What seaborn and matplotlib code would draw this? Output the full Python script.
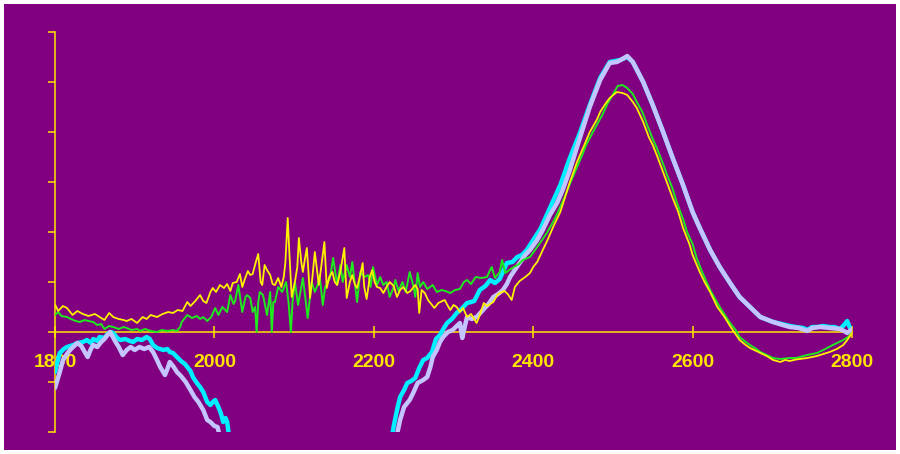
import matplotlib
matplotlib.use("Agg")
import matplotlib.pyplot as plt
import seaborn as sns
from matplotlib.patches import Rectangle

# ---------------- data ----------------
yellow_x = [1800, 1804, 1810, 1815, 1822, 1828, 1835, 1842, 1850, 1856, 1862, 1868, 1873, 1880, 1886, 1890,
            1896, 1903, 1910, 1915, 1920, 1928, 1935, 1942, 1948, 1954, 1960, 1966, 1970, 1976, 1982, 1986,
            1990, 1995, 1998, 2002, 2007, 2012, 2016, 2020, 2023, 2028, 2032, 2035, 2038, 2042, 2045, 2048,
            2052, 2055, 2058, 2060, 2063, 2066, 2070, 2073, 2076, 2080, 2084, 2087, 2089, 2092, 2094, 2097,
            2101, 2104, 2106, 2109, 2111, 2114, 2116, 2118, 2120, 2123, 2126, 2129, 2131, 2134, 2138, 2141,
            2144, 2148, 2151, 2154, 2158, 2163, 2166, 2170, 2173, 2176, 2179, 2183, 2186, 2188, 2191, 2195,
            2198, 2201, 2204, 2208, 2212, 2216, 2220, 2225, 2229, 2233, 2237, 2242, 2246, 2252, 2255, 2257,
            2260, 2264, 2268, 2272, 2276, 2281, 2286, 2289, 2293, 2296, 2300, 2304, 2308, 2312, 2317, 2322,
            2326, 2329, 2333, 2338, 2342, 2346, 2350, 2355, 2358, 2364, 2368, 2373, 2377, 2383, 2390, 2396,
            2400, 2405, 2412, 2418, 2425, 2434, 2442, 2446, 2455, 2462, 2471, 2480, 2484, 2490, 2496, 2505,
            2512, 2518, 2525, 2530, 2538, 2545, 2550, 2556, 2563, 2570, 2575, 2582, 2588, 2596, 2600, 2609,
            2615, 2622, 2631, 2640, 2647, 2652, 2659, 2665, 2672, 2680, 2685, 2693, 2701, 2710, 2716, 2722,
            2730, 2744, 2756, 2764, 2772, 2781, 2789, 2794, 2800]
yellow_y = [0.55, 0.42, 0.52, 0.48, 0.34, 0.42, 0.36, 0.32, 0.36, 0.30, 0.24, 0.38, 0.30, 0.26, 0.24, 0.22,
            0.26, 0.18, 0.30, 0.26, 0.34, 0.30, 0.36, 0.40, 0.38, 0.44, 0.42, 0.60, 0.52, 0.62, 0.74, 0.62,
            0.58, 0.80, 0.88, 0.80, 0.94, 0.88, 0.96, 0.82, 0.98, 1.00, 1.16, 0.90, 1.05, 1.22, 1.14, 1.16,
            1.40, 1.56, 1.00, 0.94, 1.34, 1.24, 1.14, 0.96, 0.94, 1.08, 0.90, 1.10, 1.38, 2.28, 1.60, 0.70,
            1.00, 1.30, 1.88, 1.40, 1.20, 1.50, 1.68, 1.20, 0.68, 1.10, 1.60, 1.20, 0.94, 1.30, 1.80, 0.88,
            1.10, 1.20, 1.00, 0.94, 1.20, 1.68, 0.68, 1.00, 1.14, 0.96, 0.88, 1.14, 1.38, 0.90, 0.66, 1.10,
            1.24, 1.00, 0.90, 0.88, 0.78, 0.90, 1.00, 0.92, 0.70, 0.84, 0.90, 0.78, 0.82, 0.94, 0.86, 0.38,
            0.84, 0.78, 0.64, 0.56, 0.48, 0.58, 0.62, 0.64, 0.52, 0.44, 0.54, 0.50, 0.40, 0.48, 0.30, 0.36,
            0.26, 0.18, 0.34, 0.58, 0.52, 0.56, 0.60, 0.74, 0.78, 0.82, 0.76, 0.64, 0.90, 1.02, 1.10, 1.18,
            1.30, 1.40, 1.64, 1.84, 2.10, 2.40, 2.80, 3.00, 3.40, 3.66, 4.00, 4.25, 4.40, 4.55, 4.68, 4.80,
            4.78, 4.74, 4.60, 4.48, 4.20, 3.90, 3.74, 3.50, 3.20, 2.90, 2.68, 2.40, 2.08, 1.76, 1.54, 1.20,
            1.00, 0.80, 0.50, 0.30, 0.12, 0.00, -0.16, -0.24, -0.32, -0.38, -0.42, -0.48, -0.56, -0.60, -0.56, -0.58,
            -0.55, -0.52, -0.48, -0.44, -0.40, -0.34, -0.26, -0.16, -0.02]

green_x = [1800, 1804, 1808, 1815, 1820, 1826, 1831, 1837, 1842, 1848, 1853, 1858, 1862, 1868, 1873, 1880,
           1886, 1890, 1896, 1903, 1907, 1913, 1920, 1928, 1934, 1941, 1948, 1953, 1957, 1959, 1966, 1972,
           1978, 1982, 1986, 1991, 1996, 2001, 2005, 2010, 2016, 2020, 2024, 2026, 2030, 2035, 2039, 2041,
           2045, 2048, 2051, 2053, 2055, 2057, 2061, 2066, 2070, 2072, 2074, 2076, 2080, 2085, 2090, 2093,
           2096, 2098, 2101, 2105, 2111, 2114, 2117, 2122, 2126, 2130, 2132, 2136, 2139, 2145, 2149, 2154,
           2158, 2161, 2166, 2170, 2173, 2176, 2179, 2183, 2188, 2193, 2196, 2199, 2204, 2208, 2212, 2216,
           2220, 2225, 2227, 2231, 2236, 2240, 2245, 2250, 2252, 2255, 2258, 2262, 2267, 2274, 2279, 2285,
           2290, 2296, 2302, 2308, 2313, 2317, 2322, 2328, 2335, 2342, 2346, 2348, 2352, 2358, 2361, 2365,
           2370, 2376, 2382, 2387, 2396, 2405, 2412, 2417, 2425, 2430, 2440, 2446, 2455, 2462, 2467, 2475,
           2480, 2487, 2493, 2500, 2506, 2512, 2518, 2525, 2530, 2537, 2543, 2550, 2555, 2563, 2568, 2575,
           2580, 2588, 2593, 2600, 2605, 2612, 2622, 2634, 2647, 2654, 2659, 2665, 2672, 2680, 2685, 2693,
           2701, 2710, 2722, 2730, 2744, 2756, 2764, 2776, 2789, 2795, 2800]
green_y = [0.34, 0.40, 0.32, 0.30, 0.26, 0.22, 0.20, 0.24, 0.22, 0.20, 0.14, 0.16, 0.06, 0.12, 0.10, 0.06,
           0.10, 0.08, 0.04, 0.06, 0.02, 0.06, 0.02, 0.00, 0.04, 0.02, 0.04, 0.02, 0.10, 0.20, 0.34, 0.28,
           0.32, 0.26, 0.30, 0.22, 0.30, 0.48, 0.34, 0.50, 0.40, 0.74, 0.56, 0.62, 0.94, 0.40, 0.70, 0.74,
           0.68, 0.40, 0.50, 0.00, 0.60, 0.80, 0.74, 0.34, 0.80, 0.00, 0.60, 0.60, 0.90, 0.80, 1.00, 0.60,
           0.00, 0.60, 1.00, 0.54, 1.08, 0.70, 0.28, 1.00, 0.80, 0.96, 1.14, 0.54, 0.90, 1.08, 1.48, 0.94,
           1.34, 1.00, 1.34, 1.10, 1.40, 1.00, 0.60, 1.20, 1.10, 1.14, 0.90, 1.30, 0.94, 1.10, 0.94, 1.00,
           0.70, 0.90, 1.04, 0.82, 1.00, 0.80, 1.20, 0.90, 0.70, 1.18, 0.90, 1.00, 0.86, 0.94, 0.80, 0.84,
           0.82, 0.78, 0.84, 0.86, 1.00, 1.04, 0.96, 1.10, 1.08, 1.10, 1.24, 1.30, 1.08, 1.20, 1.44, 1.18,
           1.24, 1.30, 1.36, 1.44, 1.50, 1.70, 1.86, 1.98, 2.20, 2.36, 2.72, 2.96, 3.30, 3.56, 3.76, 4.00,
           4.15, 4.35, 4.56, 4.75, 4.92, 4.94, 4.88, 4.76, 4.60, 4.40, 4.14, 3.86, 3.68, 3.36, 3.14, 2.86,
           2.60, 2.26, 2.00, 1.76, 1.48, 1.20, 0.84, 0.50, 0.18, 0.04, -0.10, -0.18, -0.26, -0.34, -0.40, -0.46,
           -0.52, -0.54, -0.52, -0.52, -0.46, -0.42, -0.36, -0.26, -0.16, -0.10, -0.02]

cyan_x = [1800, 1803, 1806, 1811, 1815, 1823, 1828, 1835, 1840, 1845, 1848, 1853, 1856, 1862, 1866, 1870,
          1873, 1878, 1882, 1888, 1894, 1898, 1903, 1909, 1915, 1919, 1923, 1928, 1936, 1941, 1944, 1948,
          1953, 1958, 1963, 1966, 1970, 1973, 1978, 1982, 1986, 1991, 1995, 1998, 2001, 2005, 2008, 2011,
          2014, 2016, 2018, 2030, 2120, 2215, 2223, 2226, 2230, 2233, 2238, 2242, 2247, 2252, 2257, 2262,
          2267, 2273, 2278, 2283, 2288, 2292, 2298, 2304, 2310, 2317, 2322, 2326, 2333, 2340, 2346, 2352,
          2358, 2363, 2367, 2374, 2380, 2386, 2392, 2400, 2409, 2421, 2434, 2446, 2459, 2471, 2484, 2496,
          2509, 2518, 2525, 2538, 2550, 2563, 2575, 2588, 2600, 2609, 2622, 2634, 2647, 2659, 2672, 2685,
          2701, 2712, 2722, 2730, 2739, 2744, 2750, 2756, 2764, 2772, 2778, 2785, 2790, 2794, 2797, 2800]
cyan_y = [-0.80, -0.60, -0.42, -0.34, -0.30, -0.26, -0.22, -0.20, -0.16, -0.22, -0.14, -0.18, -0.10, -0.12, -0.04, 0.00,
          -0.02, -0.12, -0.16, -0.14, -0.18, -0.20, -0.14, -0.16, -0.10, -0.14, -0.26, -0.32, -0.36, -0.34, -0.40, -0.42,
          -0.50, -0.58, -0.64, -0.70, -0.78, -0.90, -1.02, -1.10, -1.20, -1.40, -1.46, -1.40, -1.36, -1.50, -1.62, -1.80,
          -1.72, -1.80, -2.04, -2.60, -4.00, -2.60, -2.06, -1.80, -1.50, -1.30, -1.16, -1.02, -0.98, -0.92, -0.72, -0.56,
          -0.52, -0.40, -0.14, -0.06, 0.08, 0.18, 0.26, 0.38, 0.46, 0.58, 0.60, 0.62, 0.84, 0.92, 1.04, 0.98,
          1.06, 1.24, 1.38, 1.40, 1.50, 1.54, 1.64, 1.84, 2.06, 2.48, 2.94, 3.48, 4.00, 4.54, 5.08, 5.40,
          5.44, 5.50, 5.40, 5.00, 4.54, 4.00, 3.48, 2.94, 2.40, 2.08, 1.64, 1.30, 0.98, 0.70, 0.50, 0.30,
          0.20, 0.16, 0.12, 0.10, 0.08, 0.04, 0.10, 0.10, 0.12, 0.10, 0.10, 0.06, 0.14, 0.22, 0.10, 0.04]

lav_x = [1800, 1803, 1806, 1810, 1815, 1820, 1828, 1833, 1838, 1841, 1845, 1848, 1853, 1858, 1862, 1866,
         1869, 1872, 1876, 1880, 1885, 1890, 1895, 1900, 1906, 1912, 1918, 1923, 1928, 1932, 1938, 1941,
         1944, 1949, 1953, 1958, 1964, 1970, 1975, 1980, 1986, 1991, 1995, 2000, 2004, 2006, 2018, 2120,
         2222, 2229, 2233, 2238, 2245, 2250, 2255, 2262, 2267, 2271, 2274, 2279, 2283, 2287, 2293, 2299,
         2304, 2308, 2311, 2314, 2317, 2323, 2329, 2337, 2344, 2350, 2356, 2362, 2367, 2371, 2376, 2383,
         2390, 2396, 2405, 2412, 2421, 2430, 2437, 2446, 2459, 2471, 2484, 2496, 2505, 2512, 2518, 2525,
         2538, 2550, 2563, 2575, 2588, 2600, 2609, 2622, 2634, 2647, 2659, 2672, 2685, 2701, 2713, 2722,
         2733, 2744, 2750, 2760, 2772, 2785, 2790, 2794, 2800]
lav_y = [-1.12, -0.96, -0.80, -0.56, -0.44, -0.34, -0.22, -0.28, -0.42, -0.50, -0.34, -0.26, -0.30, -0.20, -0.14, -0.06,
         0.00, -0.08, -0.20, -0.30, -0.46, -0.36, -0.30, -0.36, -0.30, -0.34, -0.30, -0.40, -0.56, -0.70, -0.86, -0.74,
         -0.60, -0.70, -0.80, -0.88, -1.00, -1.16, -1.30, -1.40, -1.56, -1.76, -1.80, -1.88, -1.90, -2.04, -2.40, -4.00,
         -2.40, -2.06, -1.76, -1.50, -1.36, -1.20, -1.02, -0.96, -0.90, -0.70, -0.50, -0.36, -0.20, -0.10, 0.00, 0.04,
         0.12, 0.18, -0.12, 0.10, 0.30, 0.26, 0.30, 0.44, 0.56, 0.70, 0.76, 0.84, 0.96, 1.10, 1.22, 1.38,
         1.54, 1.64, 1.84, 2.04, 2.34, 2.58, 2.84, 3.24, 3.90, 4.50, 5.04, 5.38, 5.40, 5.46, 5.52, 5.40,
         5.00, 4.54, 4.00, 3.48, 2.94, 2.40, 2.08, 1.64, 1.30, 0.98, 0.70, 0.50, 0.30, 0.20, 0.14, 0.10,
         0.08, 0.02, 0.08, 0.10, 0.08, 0.06, 0.02, -0.02, 0.06]

x_ticks = [1800, 2000, 2200, 2400, 2600, 2800]
y_ticks = [-2, -1, 0, 1, 2, 3, 4, 5, 6]

# ---------------- style ----------------
PURPLE = "#800080"
AXIS_YELLOW = "#FFE600"
C_YELLOW = "#FFF200"
C_GREEN = "#1EEB1E"
C_CYAN = "#00F0FF"
C_LAV = "#C4C4FF"

sns.set_theme(style="white")
plt.rcParams["font.family"] = ["Liberation Sans", "DejaVu Sans"]
plt.rcParams["font.weight"] = "bold"

fig = plt.figure(figsize=(9, 4.54), dpi=100, facecolor="white")
fig.patches.append(Rectangle((4 / 900, 4 / 454), 892 / 900, 446 / 454,
                             transform=fig.transFigure, facecolor=PURPLE,
                             edgecolor="none", zorder=-10))
ax = fig.add_axes([55 / 900, 22 / 454, 797 / 900, 400 / 454])
ax.set_facecolor("none")

for xs, ys, col, lw in [(cyan_x, cyan_y, C_CYAN, 3.2),
                        (lav_x, lav_y, C_LAV, 3.2),
                        (green_x, green_y, C_GREEN, 1.4),
                        (yellow_x, yellow_y, C_YELLOW, 1.3)]:
    sns.lineplot(x=xs, y=ys, ax=ax, color=col, linewidth=lw,
                 estimator=None, sort=False, zorder=3)

ax.set_xlim(1800, 2800)
ax.set_ylim(-2, 6)
ax.set_xticks(x_ticks)
ax.set_xticklabels([str(t) for t in x_ticks])
ax.set_yticks(y_ticks)
ax.set_yticklabels([])

for s in ("top", "right"):
    ax.spines[s].set_visible(False)
ax.spines["bottom"].set_position(("data", 0))
ax.spines["bottom"].set_color(AXIS_YELLOW)
ax.spines["left"].set_color(AXIS_YELLOW)
ax.spines["bottom"].set_linewidth(1.1)
ax.spines["left"].set_linewidth(1.1)

ax.tick_params(axis="x", direction="inout", length=9, width=1.1,
               colors=AXIS_YELLOW, labelsize=14, pad=11, bottom=True)
ax.tick_params(axis="y", direction="out", length=5, width=1.1,
               colors=AXIS_YELLOW, left=True)
for lbl in ax.get_xticklabels():
    lbl.set_fontweight("bold")
    lbl.set_fontfamily(["Liberation Sans", "DejaVu Sans"])
ax.set_xlabel("")
ax.set_ylabel("")
ax.grid(False)

fig.savefig("out.png", dpi=100, facecolor="white")
